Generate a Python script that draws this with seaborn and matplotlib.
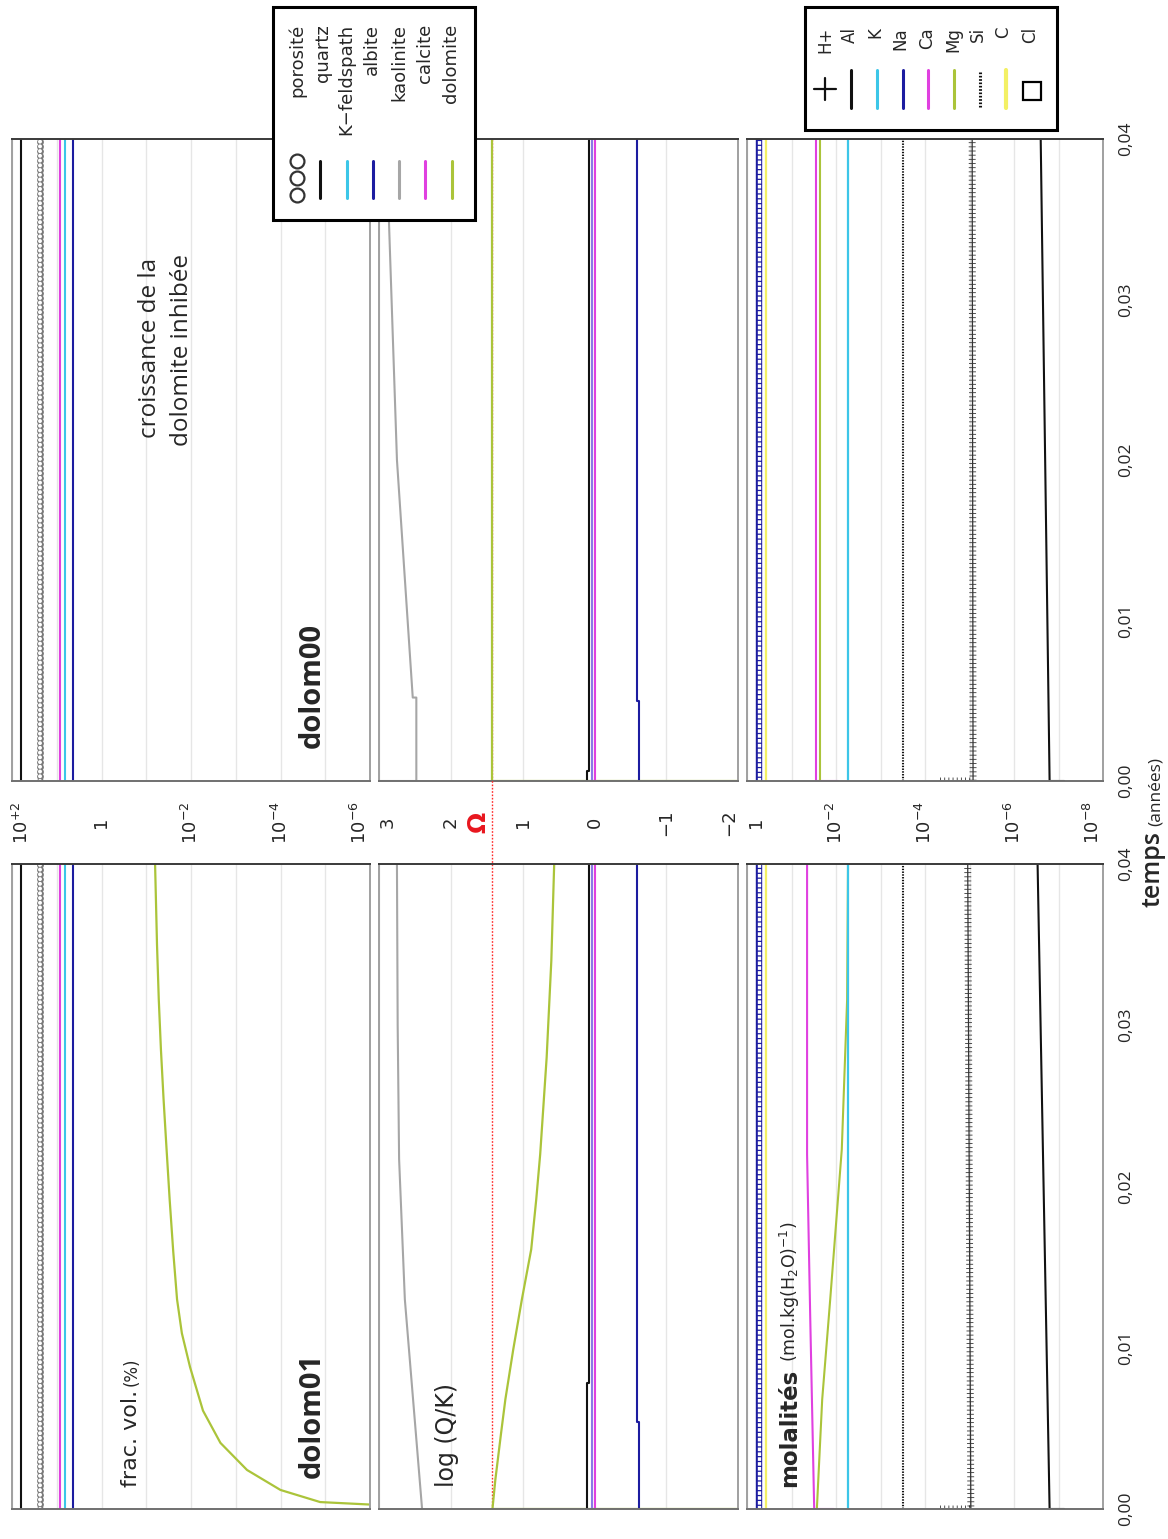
import numpy as np
import pandas as pd
import matplotlib
matplotlib.use("Agg")
import matplotlib.pyplot as plt
import seaborn as sns
from matplotlib.lines import Line2D
from matplotlib.patches import Rectangle
from matplotlib.ticker import NullLocator

sns.set_style("white")
plt.rcParams["font.family"] = ["DejaVu Sans"]
plt.rcParams["lines.scale_dashes"] = False
plt.rcParams["mathtext.default"] = "regular"

# ------------------------------------------------------------------ data
runs = ["dolom00", "dolom01"]
time_ticks = [0.0, 0.01, 0.02, 0.03, 0.04]
time_labels = ["0,00", "0,01", "0,02", "0,03", "0,04"]
t_span = [0.0, 0.04]

vol_ticks = [1e2, 1e1, 1, 1e-1, 1e-2, 1e-3, 1e-4, 1e-5, 1e-6]
vol_labels = ["10$^{+2}$", "", "1", "", "10$^{-2}$", "", "10$^{-4}$", "", "10$^{-6}$"]
qk_ticks = [3, 2, 1, 0, -1, -2]
qk_labels = ["3", "2", "1", "0", "\u22121", "\u22122"]
mol_ticks = [1, 1e-1, 1e-2, 1e-3, 1e-4, 1e-5, 1e-6, 1e-7, 1e-8]
mol_labels = ["1", "", "10$^{-2}$", "", "10$^{-4}$", "", "10$^{-6}$", "", "10$^{-8}$"]

# frac. vol. (%) -- same in both runs
vol_porosite = [23.7, 23.7]
vol_quartz = [63.0, 63.0]
vol_kfeld = [6.5, 6.5]
vol_albite = [4.3, 4.3]
vol_calcite = [8.4, 8.4]
# dolomite, run dolom01 (no dolomite growth in dolom00)
t_vol_dolo01 = [0.0, 0.00043, 0.00118, 0.00242, 0.0041, 0.0061, 0.0088,
                0.0109, 0.0130, 0.016, 0.0192, 0.0225, 0.0254, 0.0285,
                0.0316, 0.035, 0.0396, 0.04]
vol_dolo01 = [1e-8, 1.3e-5, 1.0e-4, 5.6e-4, 2.2e-3, 5.4e-3, 1.05e-2,
              1.6e-2, 2.05e-2, 2.5e-2, 3.0e-2, 3.55e-2, 4.1e-2, 4.7e-2,
              5.25e-2, 5.75e-2, 6.3e-2, 6.35e-2]

# log(Q/K)
omega = 1.42
t_qk_kao = {"dolom00": [0.0, 0.0, 0.0052, 0.0052, 0.02, 0.04],
            "dolom01": [0.0, 0.013, 0.0217, 0.03, 0.04]}
qk_kao = {"dolom00": [3.2, 2.48, 2.48, 2.53, 2.75, 2.90],
          "dolom01": [2.40, 2.64, 2.72, 2.74, 2.75]}
t_qk_dolo = {"dolom00": [0.0, 0.0, 0.04],
             "dolom01": [0.0, 0.0, 0.0018, 0.0047, 0.0068, 0.0099, 0.013, 0.0161,
                         0.0192, 0.022, 0.025, 0.028, 0.034, 0.04]}
qk_dolo = {"dolom00": [-3.0, 1.42, 1.42],
           "dolom01": [-3.0, 1.42, 1.38, 1.30, 1.24, 1.13, 1.01, 0.88,
                       0.81, 0.755, 0.71, 0.665, 0.60, 0.56]}
t_qk_step = {"dolom00": [0.0, 0.0006, 0.0006, 0.04], "dolom01": [0.0, 0.0078, 0.0078, 0.04]}
qk_quartz = [0.11, 0.11, 0.08, 0.08]
t_qk_alb = {"dolom00": [0.0, 0.005, 0.005, 0.04], "dolom01": [0.0, 0.0054, 0.0054, 0.04]}
qk_albite = [-0.62, -0.62, -0.60, -0.60]
qk_kfeld = [0.03, 0.03]
qk_calcite = [-0.01, -0.01]

# molalities, log10 (mol/kg H2O)
lm_na = [-0.27, -0.27]
lm_cl = [-0.27, -0.27]
lm_c = [-0.42, -0.42]
lm_k = [-2.27, -2.27]
lm_si = [-3.50, -3.50]
t_lm_h = [0.0, 0.0, 0.04]
lm_h = {"dolom00": [-4.34, -5.08, -5.06], "dolom01": [-4.34, -5.03, -4.96]}
t_lm_ca = {"dolom00": [0.0, 0.0, 0.04], "dolom01": [0.0, 0.0, 0.012, 0.022, 0.04]}
lm_ca = {"dolom00": [-2.05, -1.55, -1.55], "dolom01": [-1.95, -1.51, -1.42, -1.35, -1.35]}
t_lm_mg = {"dolom00": [0.0, 0.04], "dolom01": [0.0, 0.0068, 0.013, 0.0223, 0.0316, 0.04]}
lm_mg = {"dolom00": [-1.65, -1.65], "dolom01": [-1.57, -1.69, -1.87, -2.13, -2.25, -2.27]}
t_lm_al = [0.0, 0.0, 0.04]
lm_al = {"dolom00": [-7.13, -6.80, -6.60], "dolom01": [-7.13, -6.80, -6.53]}

mineral_names = ["porosité", "quartz", "K\u2212feldspath", "albite", "kaolinite", "calcite", "dolomite"]
ion_names = ["H+", "Al", "K", "Na", "Ca", "Mg", "Si", "C", "Cl"]

# ------------------------------------------------------------------ style
C_BLACK = "#111111"
C_CYAN = "#3cc6e8"
C_NAVY = "#1c1ca0"
C_GRAY = "#a6a6a6"
C_MAG = "#e040e0"
C_GREEN = "#abc43a"
C_YEL = "#f3f064"
C_POR = "#7a7a7a"

W, H = 1168, 1539
fig = plt.figure(figsize=(W / 100, H / 100), dpi=100)
fig.patch.set_facecolor("white")


def px_axes(x0, x1, y0, y1):
    return fig.add_axes([x0 / W, 1 - y1 / H, (x1 - x0) / W, (y1 - y0) / H])


def series(ax, t, v, color, lw=1.5, **kw):
    df = pd.DataFrame({"t": t, "v": v})
    sns.lineplot(data=df, x="v", y="t", orient="y", sort=False, estimator=None,
                 color=color, lw=lw, ax=ax, legend=False, **kw)


def rings(ax, t, v):
    series(ax, t, v, C_POR, lw=5.0, linestyle=(0, (0.01, 3.4)),
           dash_capstyle="round", solid_capstyle="round")
    series(ax, t, v, "white", lw=2.9, linestyle=(0, (0.01, 3.4)),
           dash_capstyle="round", solid_capstyle="round")


def plus_line(ax, t, v):
    series(ax, t, v, "#333333", lw=0.9)
    series(ax, t, v, "#333333", lw=5.0, linestyle=(0, (0.6, 2.4)), dash_capstyle="butt")


def ladder(ax, t, v):
    series(ax, t, v, C_NAVY, lw=4.6)
    series(ax, t, v, "white", lw=2.4, linestyle=(0, (2.6, 0.9)), dash_capstyle="butt")


cols = {"vol": (12, 370), "qk": (379, 738), "mol": (747, 1103)}
rows = {"dolom00": (139, 781), "dolom01": (864, 1509)}


def frame(ax):
    for s in ("left", "right"):
        ax.spines[s].set_color("#a0a0a0")
        ax.spines[s].set_linewidth(1.4)
    ax.spines["top"].set_color("#3a3a3a")
    ax.spines["bottom"].set_color("#707070")
    ax.spines["top"].set_linewidth(1.4)
    ax.spines["bottom"].set_linewidth(1.4)
    ax.grid(True, axis="x", color="#e6e6e6", lw=1.0)
    ax.grid(False, axis="y")
    ax.set_axisbelow(True)
    ax.set_xlabel("")
    ax.set_ylabel("")


def value_labels(ax, show):
    ax.tick_params(axis="x", length=0, pad=30, labelsize=13, labelrotation=90,
                   labelbottom=show)
    if not show:
        return
    labels = [tk.label1 for tk in ax.xaxis.get_major_ticks()]
    for lb in labels:
        lb.set_va("center")
    labels[0].set_ha("left")
    labels[-1].set_ha("right")


for run in runs:
    y0, y1 = rows[run]
    top_row = run == "dolom00"

    # ---------------- frac. vol.
    ax = px_axes(*cols["vol"], y0, y1)
    ax.set_xscale("log")
    series(ax, t_span, vol_quartz, C_BLACK, lw=1.5)
    rings(ax, t_span, vol_porosite)
    series(ax, t_span, vol_calcite, C_MAG, lw=1.5)
    series(ax, t_span, vol_kfeld, C_CYAN, lw=1.5)
    series(ax, t_span, vol_albite, C_NAVY, lw=1.5)
    if run == "dolom01":
        series(ax, t_vol_dolo01, vol_dolo01, C_GREEN, lw=1.6)
    ax.set_xlim(1e2, 1e-6)
    ax.set_ylim(0, 0.04)
    ax.set_xticks(vol_ticks, vol_labels)
    ax.xaxis.set_minor_locator(NullLocator())
    ax.set_yticks(time_ticks)
    frame(ax)
    value_labels(ax, top_row)
    ax.tick_params(axis="y", length=0, labelleft=False)

    # ---------------- log(Q/K)
    ax = px_axes(*cols["qk"], y0, y1)
    series(ax, t_qk_kao[run], qk_kao[run], C_GRAY, lw=1.5)
    series(ax, t_qk_dolo[run], qk_dolo[run], C_GREEN, lw=1.6)
    series(ax, t_qk_step[run], qk_quartz, C_BLACK, lw=1.5)
    series(ax, t_span, qk_kfeld, "#8a7ae6", lw=1.5)
    series(ax, t_span, qk_calcite, C_MAG, lw=1.5)
    series(ax, t_qk_alb[run], qk_albite, C_NAVY, lw=1.5)
    ax.axvline(omega, ymin=0, ymax=1.0 if top_row else 1.13, clip_on=False,
               color="#ff2a2a", lw=1.0, linestyle=(0, (1.2, 1.2)), zorder=1)
    ax.set_xlim(3, -2)
    ax.set_ylim(0, 0.04)
    ax.set_xticks(qk_ticks, qk_labels)
    ax.set_yticks(time_ticks)
    frame(ax)
    value_labels(ax, top_row)
    ax.tick_params(axis="y", length=0, labelleft=False)

    # ---------------- molalités
    ax = px_axes(*cols["mol"], y0, y1)
    ax.set_xscale("log")
    p = lambda a: [10 ** x for x in a]
    series(ax, t_span, p(lm_na), C_NAVY, lw=1.5)
    ladder(ax, t_span, p(lm_cl))
    series(ax, t_span, p(lm_c), C_YEL, lw=1.6)
    series(ax, t_lm_ca[run], p(lm_ca[run]), C_MAG, lw=1.5)
    series(ax, t_lm_mg[run], p(lm_mg[run]), C_GREEN, lw=1.5)
    series(ax, t_span, p(lm_k), C_CYAN, lw=1.6)
    series(ax, t_span, p(lm_si), C_BLACK, lw=1.5, linestyle=(0, (1.0, 1.0)))
    plus_line(ax, t_lm_h, p(lm_h[run]))
    series(ax, t_lm_al, p(lm_al[run]), C_BLACK, lw=1.5)
    ax.set_xlim(1, 1e-8)
    ax.set_ylim(0, 0.04)
    ax.set_xticks(mol_ticks, mol_labels)
    ax.xaxis.set_minor_locator(NullLocator())
    ax.set_yticks(time_ticks, time_labels)
    frame(ax)
    value_labels(ax, top_row)
    ax.yaxis.tick_right()
    ax.tick_params(axis="y", length=0, pad=11, labelsize=12.5, labelrotation=90,
                   labelright=True, labelleft=False)
    for tk in ax.yaxis.get_major_ticks():
        tk.label2.set_va("center")
        tk.label2.set_ha("left")
        tk.label2.set_family(["Open Sans", "DejaVu Sans"])


# ------------------------------------------------------------------ texts
def ftext(x, y, s, **kw):
    kw.setdefault("rotation", 90)
    kw.setdefault("rotation_mode", "anchor")
    return fig.text(x / W, 1 - y / H, s, **kw)


ftext(137, 1487, "frac. vol.", ha="left", va="baseline", size=16)
ftext(137, 1386, "(%)", ha="left", va="baseline", size=12)
ftext(454, 1487, "log (Q/K)", ha="left", va="baseline", size=17)
ftext(796, 1487, "molalités", ha="left", va="baseline", size=16.5, weight="bold")
ftext(796, 1362, "(mol.kg(H$_2$O)$^{-1}$)", ha="left", va="baseline", size=12.5)
ftext(312, 1415, "dolom01", ha="center", va="center", size=21, weight="bold",
      family=["Open Sans", "DejaVu Sans"])
ftext(312, 685, "dolom00", ha="center", va="center", size=21, weight="bold",
      family=["Open Sans", "DejaVu Sans"])
ftext(150, 348, "croissance de la", ha="center", va="center", size=17.5,
      family=["Open Sans", "DejaVu Sans"])
ftext(182, 350, "dolomite inhibée", ha="center", va="center", size=17.5,
      family=["Open Sans", "DejaVu Sans"])
ftext(1160, 907, "temps", ha="left", va="baseline", size=18, weight="semibold",
      family=["Open Sans", "DejaVu Sans"])
ftext(1160, 826, "(années)", ha="left", va="baseline", size=12.5,
      family=["Open Sans", "DejaVu Sans"])
ftext(478, 822, "\u03a9", ha="center", va="center", size=18, weight="bold",
      color="#e8161e")


# ------------------------------------------------------------------ legends
def fline(x0, y0, x1, y1, **kw):
    fig.add_artist(Line2D([x0 / W, x1 / W], [1 - y0 / H, 1 - y1 / H],
                          transform=fig.transFigure, zorder=12, **kw))


def fbox(x0, y0, x1, y1):
    fig.add_artist(Rectangle((x0 / W, 1 - y1 / H), (x1 - x0) / W, (y1 - y0) / H,
                             transform=fig.transFigure, facecolor="white",
                             edgecolor="black", lw=2.2, zorder=11))


# minerals legend
fbox(273, 7, 475, 220)
min_x_text = [297, 323, 346, 372, 399, 425, 451]
min_x_sym = [297, 320, 347, 373, 399, 425, 452]
min_cols = [None, C_BLACK, C_CYAN, C_NAVY, C_GRAY, C_MAG, C_GREEN]
for name, xt, xs, c in zip(mineral_names, min_x_text, min_x_sym, min_cols):
    ftext(xt, 24, name, ha="right", va="center", size=13, zorder=13)
    if c is None:
        fig.add_artist(Line2D([xs / W] * 3, [1 - 161 / H, 1 - 178 / H, 1 - 195 / H],
                              transform=fig.transFigure, linestyle="none",
                              marker="o", ms=10, mfc="white", mec="#333333",
                              mew=1.6, zorder=12))
    else:
        fline(xs, 161, xs, 198, color=c, lw=2.2)

# ions legend
fbox(805, 7, 1057, 130)
ion_x_text = [825, 850, 875, 900, 927, 953, 978, 1003, 1030]
ion_x_sym = [825, 851, 877, 903, 928, 954, 980, 1006, 1032]
for name, xt, xs in zip(ion_names, ion_x_text, ion_x_sym):
    ftext(xt, 27, name, ha="right", va="center", size=12, zorder=13)
fline(814, 89, 836, 89, color=C_BLACK, lw=1.6)
fline(825, 78, 825, 100, color=C_BLACK, lw=1.6)
fline(851, 70, 851, 108, color=C_BLACK, lw=2.2)
fline(877, 70, 877, 108, color=C_CYAN, lw=2.2)
fline(903, 70, 903, 108, color=C_NAVY, lw=2.2)
fline(928, 70, 928, 108, color=C_MAG, lw=2.2)
fline(954, 70, 954, 108, color=C_GREEN, lw=2.2)
fline(980, 72, 980, 108, color=C_BLACK, lw=2.2, linestyle=(0, (1.2, 1.2)))
fline(1006, 70, 1006, 108, color=C_YEL, lw=3.0)
fig.add_artist(Line2D([1032 / W], [1 - 91 / H], transform=fig.transFigure,
                      linestyle="none", marker="s", ms=13, mfc="white",
                      mec="black", mew=1.6, zorder=12))

fig.savefig("out.png", dpi=100)
